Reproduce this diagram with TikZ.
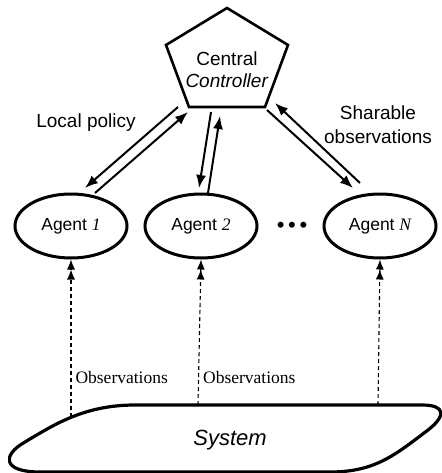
\documentclass[tikz,border=0pt]{standalone}
\usepackage{fontspec}
\setmainfont{Liberation Sans}
\newfontfamily\serifnum{Liberation Serif}
\usepackage{tikz}
\usetikzlibrary{shapes,calc,arrows.meta}

\begin{document}
\begin{tikzpicture}[x=1pt,y=-1pt,
    agent/.style={draw, ellipse, line width=3pt, minimum width=112pt, minimum height=64pt, font=\fontsize{17.5}{20}\selectfont},
    link/.style={line width=2pt, -{Latex[length=13pt,width=10pt]}},
    obs/.style={line width=1.1pt, dash pattern=on 4pt off 3pt, -{Latex[length=10pt,width=8pt]Latex[length=10pt,width=8pt]}},
    lbl/.style={font=\fontsize{19}{24}\selectfont, align=center},
    obslbl/.style={font=\serifnum\fontsize{17.5}{20}\selectfont, right, inner sep=4pt}]
    \useasboundingbox (0,0) rectangle (441,473);
    % Define points of the pentagon
    \coordinate (P1) at (227, 8);
    \coordinate (P2) at (288, 45);
    \coordinate (P3) at (265, 107);
    \coordinate (P4) at (189, 107);
    \coordinate (P5) at (166, 45);
    % Central controller
    \draw[line width=2.6pt, line join=miter] (P1) -- (P2) -- (P3) -- (P4) -- (P5) -- cycle;
    \node[lbl] (ctrl) at (227, 70) {Central\\[-2pt]\textit{Controller}};
    % Agents
    \node[agent] (a1) at (71, 226) {Agent {\serifnum\itshape 1}};
    \node[agent] (a2) at (201, 226) {Agent {\serifnum\itshape 2}};
    \node[agent] (aN) at (380, 226) {Agent {\serifnum\itshape N}};
    \node[font=\fontsize{22}{22}\selectfont] (dots) at (292, 227) {\textbullet\,\textbullet\,\textbullet};
    % End points of the links
    \coordinate (d1s) at (178, 107);
    \coordinate (d1e) at (85, 188);
    \coordinate (u1s) at (95, 193);
    \coordinate (u1e) at (188, 112);
    \coordinate (d2s) at (211, 112);
    \coordinate (d2e) at (199, 188);
    \coordinate (u2s) at (208, 193);
    \coordinate (u2e) at (220, 116);
    \coordinate (dNs) at (267, 110);
    \coordinate (dNe) at (353, 188);
    \coordinate (uNs) at (360, 183);
    \coordinate (uNe) at (275, 103);
    % Policy and observation links
    \draw[link] (d1s) -- (d1e);
    \draw[link] (u1s) -- (u1e);
    \draw[link] (d2s) -- (d2e);
    \draw[link] (u2s) -- (u2e);
    \draw[link] (dNs) -- (dNe);
    \draw[link] (uNs) -- (uNe);
    \node[lbl] (policy) at (86, 123) {Local policy};
    \node[lbl] (share) at (378, 125) {Sharable\\observations};
    % System
    \draw[line width=3.2pt]
      (40, 472) .. controls (2, 472) and (2, 455) .. (25, 442)
      .. controls (55, 424) and (85, 405) .. (135, 405) -- (422, 405)
      .. controls (446, 405) and (446, 416) .. (428, 430)
      .. controls (395, 455) and (375, 472) .. (330, 472) -- cycle;
    \node[font=\fontsize{22}{24}\selectfont\itshape] (sys) at (230, 440) {System};
    \coordinate (o1) at (71, 417);
    \coordinate (o2) at (198, 405);
    \coordinate (oN) at (378, 405);
    % Observations from the system
    \draw[obs] (o1) -- node[obslbl, pos=0.25] (ob1) {Observations} (a1.south);
    \draw[obs] (o2) -- node[obslbl, pos=0.19] (ob2) {Observations} (a2.south);
    \draw[obs] (oN) -- (aN.south);
\end{tikzpicture}
\end{document}
